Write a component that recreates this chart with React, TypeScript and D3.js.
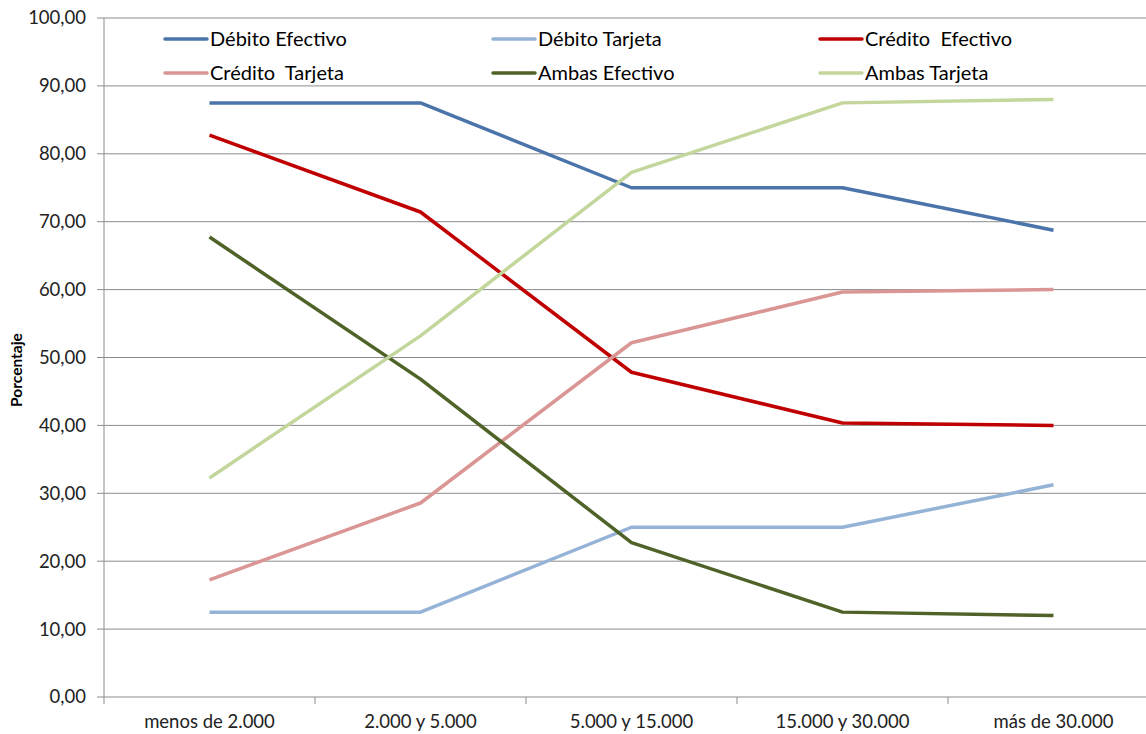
import React from "react";
import * as d3 from "d3";

const categories = ["menos de 2.000", "2.000 y 5.000", "5.000 y 15.000", "15.000 y 30.000", "más de 30.000"];
const debitoEfectivo = [87.5, 87.5, 75.0, 75.0, 68.75];
const debitoTarjeta = [12.5, 12.5, 25.0, 25.0, 31.25];
const creditoEfectivo = [82.76, 71.43, 47.83, 40.35, 40.0];
const creditoTarjeta = [17.24, 28.57, 52.17, 59.65, 60.0];
const ambasEfectivo = [67.74, 46.81, 22.73, 12.5, 12.0];
const ambasTarjeta = [32.26, 53.19, 77.27, 87.5, 88.0];
const yTicks = [0, 10, 20, 30, 40, 50, 60, 70, 80, 90, 100];

const series = [
  { name: "Débito Efectivo", values: debitoEfectivo, color: "#4A74AA" },
  { name: "Débito Tarjeta", values: debitoTarjeta, color: "#95B3D7" },
  { name: "Crédito  Efectivo", values: creditoEfectivo, color: "#C00000" },
  { name: "Crédito  Tarjeta", values: creditoTarjeta, color: "#DA9694" },
  { name: "Ambas Efectivo", values: ambasEfectivo, color: "#4F6228" },
  { name: "Ambas Tarjeta", values: ambasTarjeta, color: "#C3D69B" },
];

const W = 1146, H = 734;
const left = 104, top = 18, bottom = 697;
const bandW = 211;

export default function App() {
  const x = d3.scaleBand<string>().domain(categories).range([left, left + bandW * categories.length]);
  const y = d3.scaleLinear().domain([0, 100]).range([bottom, top]);
  const line = d3.line<number>()
    .x((_, i) => (x(categories[i]) as number) + x.bandwidth() / 2)
    .y((v) => y(v));
  const fmt = (v: number) => v.toFixed(2).replace(".", ",");
  const font = "Lato, 'Open Sans', sans-serif";
  const legendCols = [165, 493, 820];
  const legendRows = [39, 73];
  return (
    <svg width={W} height={H} style={{ position: "absolute", left: 0, top: 0, background: "#fff" }} fontFamily={font}>
      <rect x={0} y={0} width={W} height={H} fill="#fff" />
      {yTicks.map((t) => (
        <g key={t}>
          {t > 0 && <line x1={left} x2={W} y1={y(t)} y2={y(t)} stroke="#8C8C8C" strokeWidth={1} />}
          <line x1={left - 7} x2={left} y1={y(t)} y2={y(t)} stroke="#8C8C8C" strokeWidth={1} />
          <text x={86} y={y(t)} dy="0.35em" textAnchor="end" fontSize={18.5} fill="#222">{fmt(t)}</text>
        </g>
      ))}
      <line x1={left} x2={left} y1={top} y2={bottom} stroke="#8C8C8C" strokeWidth={1} />
      <line x1={left} x2={W} y1={bottom} y2={bottom} stroke="#8C8C8C" strokeWidth={1} />
      {categories.map((c) => (
        <g key={c}>
          <line x1={(x(c) as number)} x2={(x(c) as number)} y1={bottom} y2={bottom + 7} stroke="#8C8C8C" />
          <text x={(x(c) as number) + x.bandwidth() / 2} y={722} dy="0.35em" textAnchor="middle" fontSize={18.5} fill="#222">{c}</text>
        </g>
      ))}
      <text transform={`translate(22,370) rotate(-90)`} textAnchor="middle" fontSize={15.5} fontWeight="bold" fill="#000">Porcentaje</text>
      {series.map((s) => (
        <path key={s.name} d={line(s.values) || ""} fill="none" stroke={s.color} strokeWidth={3.5} strokeLinejoin="round" />
      ))}
      {series.map((s, i) => {
        const lx = legendCols[i % 3];
        const ly = legendRows[Math.floor(i / 3)];
        return (
          <g key={"lg" + s.name}>
            <line x1={lx} x2={lx + 42} y1={ly} y2={ly} stroke={s.color} strokeWidth={3.5} strokeLinecap="round" />
            <text x={lx + 45} y={ly} dy="0.35em" fontSize={20} fill="#000" style={{ whiteSpace: "pre" }}>{s.name}</text>
          </g>
        );
      })}
    </svg>
  );
}
